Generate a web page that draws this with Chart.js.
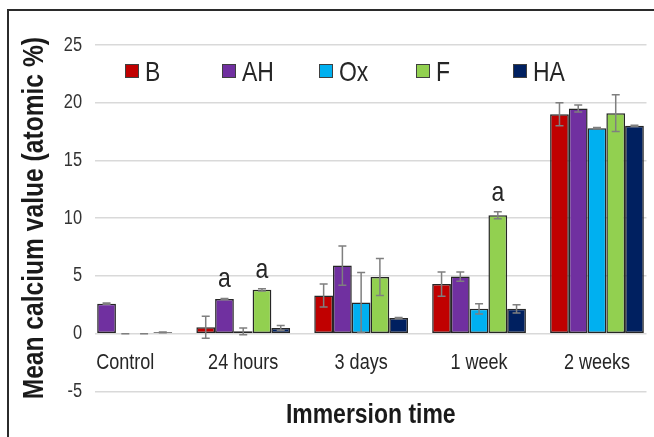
<!DOCTYPE html>
<html>
<head>
<meta charset="utf-8">
<script src="https://cdn.jsdelivr.net/npm/chart.js@4.4.0/dist/chart.umd.min.js"></script>
<style>
	html, body { margin: 0; padding: 0; background: #fff; overflow: hidden; }
	#wrap { position: relative; width: 654px; height: 437px; }
	#grafico { position: absolute; left: 0; top: 0; }
	#marco { position: absolute; left: 7px; top: 9px; width: 700px; height: 500px; border-left: 2px solid #2b2b2b; border-top: 2px solid #2b2b2b; pointer-events: none; }
</style>
</head>
<body>
<div id="wrap">
	<canvas id="grafico" width="654" height="437"></canvas>
	<div id="marco"></div>
</div>
<script>
const categorias = ["Control", "24 hours", "3 days", "1 week", "2 weeks"];
const series = ["B", "AH", "Ox", "F", "HA"];

const valoresB = [null, 0.55, 3.3, 4.3, 19.0];
const valoresAH = [2.6, 3.0, 5.9, 4.95, 19.5];
const valoresOx = [0, 0.2, 2.7, 2.15, 17.8];
const valoresF = [0, 3.8, 4.9, 10.25, 19.1];
const valoresHA = [0.12, 0.5, 1.35, 2.15, 18.0];

const errorB = [null, 0.95, 1.0, 1.05, 1.0];
const errorAH = [0.05, 0.05, 1.7, 0.4, 0.3];
const errorOx = [0, 0.3, 2.6, 0.45, 0.05];
const errorF = [0, 0.1, 1.6, 0.3, 1.6];
const errorHA = [0.03, 0.2, 0.05, 0.35, 0.05];

// letras de significancia encima de las barras
const letrasAH = ["", "a", "", "", ""];
const letrasF = ["", "a", "", "a", ""];

const colores = ["#c00000", "#7030a0", "#00b0f0", "#92d050", "#002060"];

const fuente = "'Liberation Sans', Arial, sans-serif";
Chart.defaults.font.family = fuente;
Chart.defaults.color = "#262626";

const valores = [valoresB, valoresAH, valoresOx, valoresF, valoresHA];
const errores = [errorB, errorAH, errorOx, errorF, errorHA];
const letras = [null, letrasAH, null, letrasF, null];

const datasets = series.map((nombre, i) => ({
	label: nombre,
	data: valores[i].map((v, j) => ({ x: j, y: v })),
	errores: errores[i],
	letras: letras[i],
	backgroundColor: colores[i],
	borderColor: "#262626",
	borderWidth: 1.5,
	borderSkipped: false,
	categoryPercentage: 0.795,
	barPercentage: 1.0,
}));

/* barras de error y letras */
const barrasError = {
	id: "barrasError",
	afterDatasetsDraw(chart) {
		const ctx = chart.ctx;
		const escalaY = chart.scales.y;
		chart.data.datasets.forEach((ds, i) => {
			const meta = chart.getDatasetMeta(i);
			meta.data.forEach((barra, j) => {
				const v = ds.data[j].y;
				const e = ds.errores[j];
				if (v === null || e === null) return;
				const arriba = escalaY.getPixelForValue(v + e);
				const abajo = escalaY.getPixelForValue(v - e);
				ctx.save();
				ctx.strokeStyle = "#7f7f7f";
				ctx.lineWidth = 1.5;
				ctx.beginPath();
				ctx.moveTo(barra.x, arriba);
				ctx.lineTo(barra.x, abajo);
				ctx.moveTo(barra.x - 4, arriba);
				ctx.lineTo(barra.x + 4, arriba);
				ctx.moveTo(barra.x - 4, abajo);
				ctx.lineTo(barra.x + 4, abajo);
				ctx.stroke();
				if (ds.letras && ds.letras[j]) {
					ctx.fillStyle = "#262626";
					ctx.font = "28px " + fuente;
					ctx.textAlign = "center";
					ctx.textBaseline = "alphabetic";
					ctx.fillText(ds.letras[j], barra.x, arriba - 11);
				}
				ctx.restore();
			});
		});
	},
};

/* leyenda dentro del area del grafico */
const leyenda = {
	id: "leyenda",
	afterDraw(chart) {
		const ctx = chart.ctx;
		ctx.save();
		chart.data.datasets.forEach((ds, i) => {
			const x = 125 + i * 97;
			const y = 64;
			ctx.fillStyle = ds.backgroundColor;
			ctx.fillRect(x, y, 14, 14);
			ctx.strokeStyle = "#404040";
			ctx.lineWidth = 1;
			ctx.strokeRect(x + 0.5, y + 0.5, 13, 13);
			ctx.fillStyle = "#262626";
			ctx.font = "28px " + fuente;
			ctx.textAlign = "left";
			ctx.textBaseline = "middle";
			ctx.fillText(ds.label, x + 20, y + 9);
		});
		ctx.restore();
	},
};

const ctx = document.getElementById("grafico").getContext("2d");

// el original usa una fuente estrecha (tipo Arial Narrow): se comprime el texto a lo ancho
const fillTextOriginal = ctx.fillText.bind(ctx);
ctx.fillText = function (texto, x, y) {
	this.save();
	this.translate(x, y);
	this.scale(0.82, 1);
	fillTextOriginal(texto, 0, 0);
	this.restore();
};

new Chart(ctx, {
	type: "bar",
	data: { datasets: datasets },
	options: {
		responsive: false,
		animation: false,
		devicePixelRatio: 1,
		layout: { padding: { top: 45, left: 0, right: 0, bottom: 0 } },
		plugins: {
			legend: { display: false },
			tooltip: { enabled: false },
			title: {
				display: true,
				text: "Immersion time",
				position: "bottom",
				fullSize: false,
				font: { size: 28, weight: "bold" },
				color: "#1a1a1a",
				padding: { top: 7, bottom: 5 },
			},
		},
		scales: {
			x: {
				type: "linear",
				position: { y: 0 },
				min: -0.257,
				max: 4.42,
				offset: false,
				grid: { display: false, drawTicks: false },
				border: { display: false },
				ticks: {
					stepSize: 1,
					autoSkip: false,
					maxRotation: 0,
					includeBounds: false,
					padding: 16,
					font: { size: 22 },
					color: "#262626",
					callback: (v) => (Number.isInteger(v) ? categorias[v] : ""),
				},
				afterFit: (s) => { s.height = 0; },
			},
			y: {
				min: -5,
				max: 25,
				grid: { color: "#d9d9d9", lineWidth: 1.5, drawTicks: false },
				border: { display: false },
				ticks: { stepSize: 5, padding: 13, font: { size: 20 }, color: "#333333" },
				title: {
					display: true,
					text: "Mean calcium value (atomic %)",
					font: { size: 30, weight: "bold" },
					color: "#1a1a1a",
					padding: { top: 17, bottom: 0 },
				},
				afterFit: (s) => { s.width = 95; },
			},
		},
	},
	plugins: [barrasError, leyenda],
});
</script>
</body>
</html>
